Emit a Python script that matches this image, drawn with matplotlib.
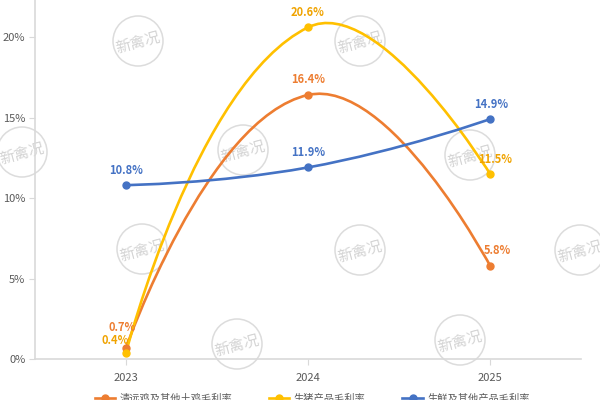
import numpy as np
import matplotlib
matplotlib.use('Agg')
import matplotlib.pyplot as plt
from matplotlib.path import Path
from matplotlib.patches import PathPatch, Ellipse
from matplotlib.lines import Line2D
from matplotlib.ticker import FuncFormatter

plt.rcParams['font.family'] = ['Noto Sans CJK SC', 'DejaVu Sans']

# Datos
anios = ['2023', '2024', '2025']
series = ['清远鸡及其他土鸡毛利率', '生猪产品毛利率', '生鲜及其他产品毛利率']
margen_pollo = [0.7, 16.4, 5.8]
margen_cerdo = [0.4, 20.6, 11.5]
margen_fresco = [10.8, 11.9, 14.9]

colores = ['#ED7D31', '#FFC000', '#4472C4']
colores_txt = ['#ED7D31', '#F0A300', '#4472C4']

# desplazamiento de etiquetas en pixeles (dx, dy)
desp = [
    [(-4, 20), (0, 15), (7, 15)],
    [(-11, 12), (0, 15), (5, 14)],
    [(0, 15), (0, 15), (1, 15)],
]

fig = plt.figure(figsize=(6, 4), dpi=100)
ax = fig.add_axes([35 / 600, 41 / 400, 546 / 600, 359 / 400])
ax.set_facecolor('none')
ax.set_xlim(-0.5, 2.5)
ax.set_ylim(0, 22.3)


def curva_suave(ax, xs, ys, smooth=0.5):
    # suavizado tipo ECharts calculado en pixeles
    pts = ax.transData.transform(np.column_stack([xs, ys]))
    n = len(pts)
    cp_in = pts.copy()
    cp_out = pts.copy()
    for i in range(1, n - 1):
        v = pts[i + 1] - pts[i - 1]
        d0 = np.hypot(*(pts[i] - pts[i - 1]))
        d1 = np.hypot(*(pts[i + 1] - pts[i]))
        r = d1 / (d0 + d1)
        cp_in[i] = pts[i] - v * smooth * (1 - r)
        cp_out[i] = pts[i] + v * smooth * r
    verts = [pts[0]]
    codes = [Path.MOVETO]
    for i in range(n - 1):
        verts += [cp_out[i], cp_in[i + 1], pts[i + 1]]
        codes += [Path.CURVE4] * 3
    verts = ax.transData.inverted().transform(np.array(verts))
    return Path(verts, codes)


x = np.arange(len(anios))
datos = [margen_pollo, margen_cerdo, margen_fresco]
for k, ys in enumerate(datos):
    p = curva_suave(ax, x, ys)
    ax.add_patch(PathPatch(p, facecolor='none', edgecolor=colores[k], lw=1.9, zorder=3))
    ax.plot(x, ys, 'o', color=colores[k], ms=5, zorder=4)
    for i, v in enumerate(ys):
        dx, dy = desp[k][i]
        ax.annotate(f'{v}%', (x[i], v), xytext=(dx, dy), textcoords='offset pixels',
                    ha='center', va='center', color=colores_txt[k], fontsize=8,
                    fontweight='bold', zorder=5)

ax.set_xticks(x)
ax.set_xticklabels(anios)
ax.set_yticks([0, 5, 10, 15, 20])
ax.yaxis.set_major_formatter(FuncFormatter(lambda v, p: f'{v:.0f}%'))
for s in ['top', 'right']:
    ax.spines[s].set_visible(False)
for s in ['left', 'bottom']:
    ax.spines[s].set_color('#d9d9d9')
    ax.spines[s].set_linewidth(1.2)
ax.tick_params(axis='both', colors='#d9d9d9', labelcolor='#595959', labelsize=8, length=4)
ax.tick_params(axis='x', pad=6)
ax.tick_params(axis='y', pad=3)

# marcas de agua
marcas = [(138, 41), (360, 41), (22, 152), (243, 150), (470, 155),
          (142, 249), (360, 250), (580, 250), (237, 344), (460, 340)]
for (mx, my) in marcas:
    fx, fy = mx / 600, 1 - my / 400
    fig.add_artist(Ellipse((fx, fy), 50 / 600, 50 / 400, transform=fig.transFigure,
                           facecolor='none', edgecolor='#dcdcdc', lw=1.1, zorder=-1))
    fig.text(fx, fy - 0.005, '新禽况', rotation=15, ha='center', va='center', fontsize=11,
             color='#d4d4d4', zorder=-1)

handles = [Line2D([0], [0], color=c, lw=1.9, marker='o', ms=5) for c in colores]
fig.legend(handles, series, loc='center', bbox_to_anchor=(0.52, 1 / 400), ncol=3,
           frameon=False, fontsize=7.4, labelcolor='#595959', handlelength=2.0,
           handletextpad=0.4, columnspacing=3.6)

fig.savefig('out.png', dpi=100)
